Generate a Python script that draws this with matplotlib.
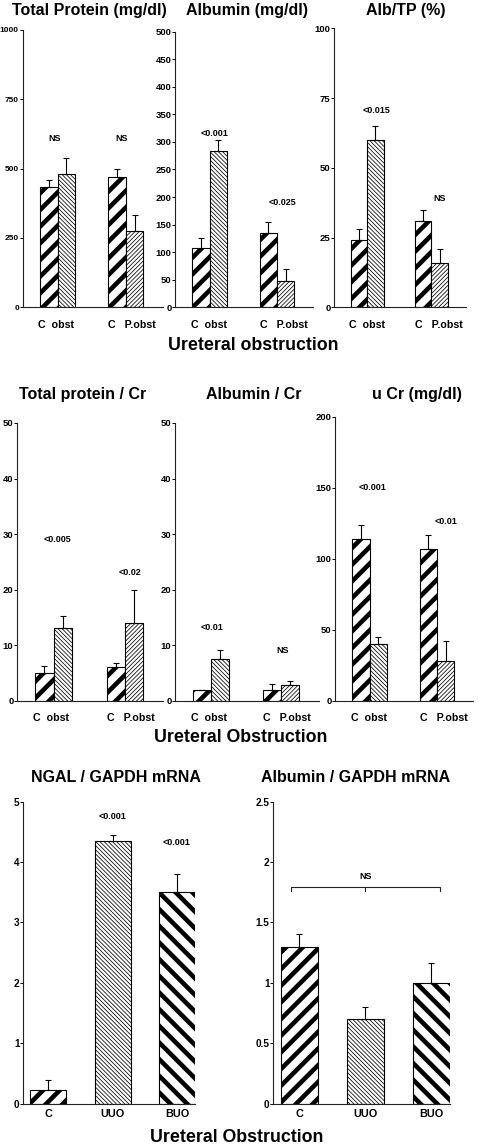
import matplotlib
matplotlib.use("Agg")
import matplotlib.pyplot as plt
from matplotlib.ticker import FormatStrFormatter, FuncFormatter

plt.rcParams['font.family'] = ['Liberation Sans', 'DejaVu Sans']
plt.rcParams['font.weight'] = 'bold'

W, H = 478, 1144

# ---------------- data ----------------
pair_labels = ["C  obst", "C   P.obst"]
groups4 = ["C", "obst", "C", "P.obst"]

tp_vals = [435, 480, 470, 275]
tp_err = [25, 60, 27, 57]
alb_vals = [107, 283, 134, 48]
alb_err = [19, 20, 20, 21]
albtp_vals = [24, 60, 31, 16]
albtp_err = [4, 5, 4, 5]

tpcr_vals = [5, 13, 6, 14]
tpcr_err = [1.2, 2.3, 0.8, 6]
albcr_vals = [2, 7.5, 2, 2.9]
albcr_err = [0, 1.7, 1.0, 0.7]
ucr_vals = [114, 40, 107, 28]
ucr_err = [10, 5, 10, 14]

mrna_cats = ["C", "UUO", "BUO"]
ngal_vals = [0.22, 4.35, 3.5]
ngal_err = [0.17, 0.10, 0.30]
albm_vals = [1.3, 0.7, 1.0]
albm_err = [0.10, 0.10, 0.16]

# annotations: (text, x in data units, y in data units)
tp_ann = [("NS", 1.85, 610), ("NS", 5.65, 610)]
alb_ann = [("<0.001", 2.3, 315), ("<0.025", 6.2, 190)]
albtp_ann = [("<0.015", 2.6, 70.5), ("NS", 6.4, 39)]
tpcr_ann = [("<0.005", 2.2, 29), ("<0.02", 6.2, 23)]
albcr_ann = [("<0.01", 2.05, 13.1), ("NS", 6.0, 9)]
ucr_ann = [("<0.001", 2.2, 150), ("<0.01", 6.4, 126)]
ngal_ann = [("<0.001", 1, 4.76), ("<0.001", 2, 4.32)]

fig = plt.figure(figsize=(W / 100, H / 100), dpi=100)


def rect(l, b, r, t):
    return [l / W, 1 - b / H, (r - l) / W, (b - t) / H]


def ftext(x, y, s, size, **kw):
    fig.text(x / W, 1 - y / H, s, ha='center', va='center', fontsize=size,
             fontweight='bold', **kw)


THICK = 3.3
THIN = 0.55
THICK_F = '//'
THICK_B = '\\\\'
THIN_F = '/' * 8
THIN_B = '\\' * 8
ANN_SIZE = 6.5


def style_bar(p, hatch, hlw):
    p.set_hatch(hatch)
    p.set_facecolor('white')
    p.set_edgecolor('black')
    p.set_linewidth(0.8)
    if hasattr(p, 'set_hatch_linewidth'):
        p.set_hatch_linewidth(hlw)


def base_axes(r, ymax, step, fmt, ysize=6.8):
    ax = fig.add_axes(r)
    for s in ['top', 'right']:
        ax.spines[s].set_visible(False)
    for s in ['left', 'bottom']:
        ax.spines[s].set_linewidth(0.8)
        ax.spines[s].set_color('#222222')
    ax.set_ylim(0, ymax)
    ticks = [i * step for i in range(int(round(ymax / step)) + 1)]
    ax.set_yticks(ticks)
    ax.yaxis.set_major_formatter(fmt)
    ax.tick_params(axis='y', length=2.0, width=0.7, pad=0.6, labelsize=ysize)
    ax.patch.set_alpha(0)
    return ax


pos4 = [1.5, 2.5, 5.4, 6.4]
hatches4 = [(THICK_F, THICK), (THIN_B, THIN), (THICK_F, THICK), (THIN_F, THIN)]


def pair_panel(r, vals, errs, ymax, step, ann, title, tx, ty, ysize=6.8):
    ax = base_axes(r, ymax, step, FormatStrFormatter('%d'), ysize)
    ax.set_xlim(0, 8)
    bars = ax.bar(pos4, vals, width=1.0, zorder=2)
    for b, (h, lw) in zip(bars, hatches4):
        style_bar(b, h, lw)
    ax.errorbar(pos4, vals, yerr=[[0] * len(errs), errs], fmt='none',
                ecolor='black', elinewidth=0.8, capsize=2.2, capthick=0.8,
                zorder=3)
    ax.set_xticks([pos4[0] - 0.6, pos4[2] - 0.5])
    ax.set_xticklabels(pair_labels, ha='left')
    ax.tick_params(axis='x', length=0, pad=9, labelsize=7.7)
    for s, x, y in ann:
        ax.text(x, y, s, ha='center', va='center', fontsize=ANN_SIZE,
                fontweight='bold')
    ftext(tx, ty, title, 11.5)
    return ax


# top row
pair_panel(rect(22.5, 307.3, 162.5, 30), tp_vals, tp_err, 1000, 250, tp_ann,
           "Total Protein (mg/dl)", 89, 11, ysize=6.0)
pair_panel(rect(175, 307.3, 313.4, 31.7), alb_vals, alb_err, 500, 50, alb_ann,
           "Albumin (mg/dl)", 246.7, 11)
pair_panel(rect(334, 307.3, 466, 28.3), albtp_vals, albtp_err, 100, 25,
           albtp_ann, "Alb/TP (%)", 405.5, 11)
ftext(253, 345, "Ureteral obstruction", 12.8)

# middle row
pair_panel(rect(17, 700.7, 163.4, 423), tpcr_vals, tpcr_err, 50, 10, tpcr_ann,
           "Total protein / Cr", 82.5, 395)
pair_panel(rect(175, 700.7, 319, 423), albcr_vals, albcr_err, 50, 10,
           albcr_ann, "Albumin / Cr", 254, 395)
pair_panel(rect(335, 700.7, 473.4, 416.7), ucr_vals, ucr_err, 200, 50, ucr_ann,
           "u Cr (mg/dl)", 416.5, 395)
ftext(241, 737, "Ureteral Obstruction", 12.8)

# bottom row
pos3 = [0, 1, 2]
hatches3 = [(THICK_F, THICK), (THIN_B, THIN), (THICK_B, THICK)]


def tri_panel(r, vals, errs, ymax, step, fmt, title, tx):
    ax = base_axes(r, ymax, step, fmt, 7.2)
    ax.set_xlim(-0.39, 2.28)
    bars = ax.bar(pos3, vals, width=0.56, zorder=2)
    for b, (h, lw) in zip(bars, hatches3):
        style_bar(b, h, lw)
    ax.errorbar(pos3, vals, yerr=[[0] * len(errs), errs], fmt='none',
                ecolor='black', elinewidth=0.8, capsize=2.2, capthick=0.8,
                zorder=3)
    ax.set_xticks(pos3)
    ax.set_xticklabels(mrna_cats)
    ax.tick_params(axis='x', length=0, pad=4, labelsize=7.8)
    ftext(tx, 777, title, 11.5)
    return ax


ax7 = tri_panel(rect(23.3, 1103.5, 195, 801.7), ngal_vals, ngal_err, 5, 1,
                FormatStrFormatter('%d'), "NGAL / GAPDH mRNA", 116)
for s, x, y in ngal_ann:
    ax7.text(x, y, s, ha='center', va='center', fontsize=ANN_SIZE,
             fontweight='bold')

ax8 = tri_panel(rect(273.3, 1103.5, 450, 801.7), albm_vals, albm_err, 2.5, 0.5,
                FuncFormatter(lambda v, p: ('%g' % v)),
                "Albumin / GAPDH mRNA", 356)
# NS bracket over all three groups
yb = 1.79
ax8.plot([-0.12, -0.12, 2.13, 2.13], [yb - 0.03, yb, yb, yb - 0.03],
         color='#222222', lw=0.8)
ax8.plot([1, 1], [yb, yb - 0.03], color='#222222', lw=0.8)
ax8.text(1, 1.88, "NS", ha='center', va='center', fontsize=ANN_SIZE,
         fontweight='bold')

ftext(237, 1137, "Ureteral Obstruction", 12.8)

fig.savefig("out.png", dpi=100)
